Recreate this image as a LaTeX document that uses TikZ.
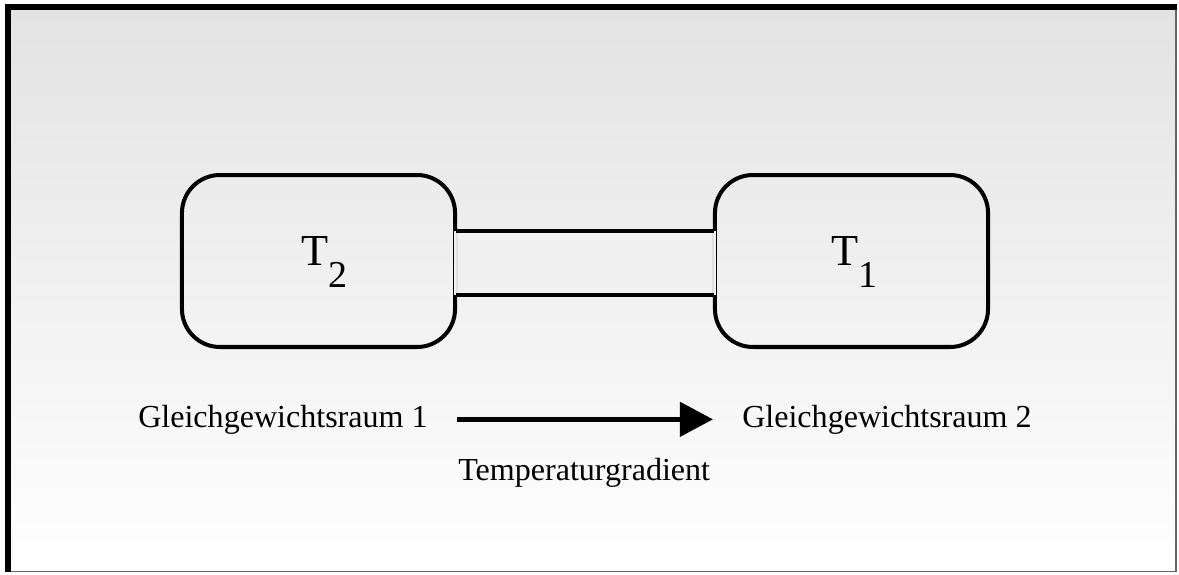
\documentclass[tikz,border=0pt]{standalone}
\usepackage{fontspec}
\setmainfont{Liberation Serif}
\usetikzlibrary{arrows.meta,positioning,calc}

\begin{document}
\begin{tikzpicture}[
    x=0.025cm,
    y=-0.025cm,
    chamber/.style={
        rectangle,
        draw=black,
        line width=2.85pt,
        rounded corners=27pt,
        minimum width=194.2pt,
        minimum height=122.3pt,
        inner sep=0pt
    },
    templabel/.style={
        inner sep=0pt,
        font=\fontsize{31.5}{31.5}\selectfont
    },
    caption/.style={
        inner sep=0pt,
        font=\fontsize{22.8}{24}\selectfont
    },
    tube/.style={
        draw=black,
        line width=2.85pt
    },
    line/.style={
        draw,
        -{Triangle[length=23.5pt,width=24pt]},
        line width=3.6pt,
        shorten <=21pt,
        shorten >=20.6pt
    }
]

    % --- Frame and background ---
    \useasboundingbox (0,0) rectangle (1179,574);
    \fill[white] (0,0) rectangle (1179,574);
    \shade[top color=black!11, bottom color=white] (11,10) rectangle (1176,571);
    \draw[black!60, line width=1.4pt] (1176,7) -- (1176,571.5) -- (8,571.5);
    \draw[black, line width=4.3pt] (8,572) -- (8,7) -- (1177,7);

    % --- Chambers ---
    \node [chamber] (box2) at (318.5,261) {};
    \node [chamber] (box1) at (851.5,261) {};

    % --- Connecting tube (covers the chamber walls) ---
    \fill[black!6] ($(box2.east)+(-3,-30)$) rectangle ($(box1.west)+(3,34)$);
    \draw[black!12, line width=0.8pt] ($(box2.east)+(0,-30)$) -- ($(box2.east)+(0,34)$);
    \draw[black!12, line width=0.8pt] ($(box1.west)+(0,-30)$) -- ($(box1.west)+(0,34)$);
    \draw[tube] ($(box2.east)+(-1.4,-30)$) -- ($(box1.west)+(1.4,-30)$);
    \draw[tube] ($(box2.east)+(-1.4,34)$) -- ($(box1.west)+(1.4,34)$);

    % --- Temperatures ---
    \node [templabel] (t2) at ($(box2.center)+(6,1)$) {T\raisebox{-15pt}{\fontsize{27}{27}\selectfont 2}};
    \node [templabel] (t1) at ($(box1.center)+(3,1)$) {T\raisebox{-15pt}{\fontsize{27}{27}\selectfont 1}};

    % --- Labels and gradient arrow ---
    \node [caption, anchor=base west] (raum1) at (138,427) {Gleichgewichtsraum 1};
    \node [caption, anchor=base west] (raum2) at (742,427) {Gleichgewichtsraum 2};
    \node [caption, anchor=base west] (gradient) at (458,480) {Temperaturgradient};

    \path [line] (raum1.east) -- (raum2.west);

\end{tikzpicture}
\end{document}
